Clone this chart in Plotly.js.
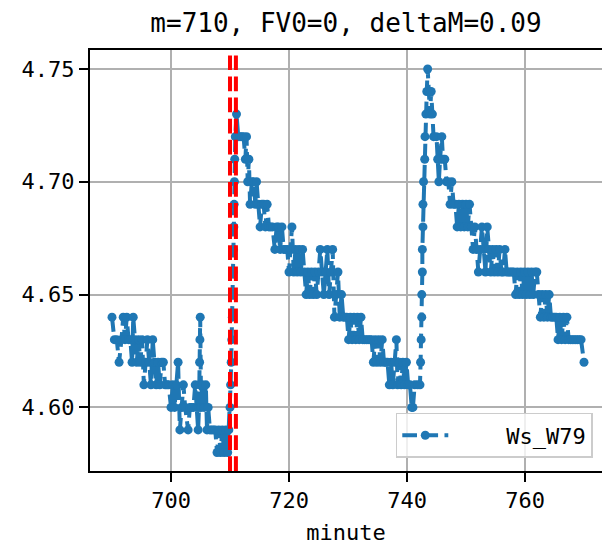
<!DOCTYPE html>
<html>
<head>
<meta charset="utf-8">
<script src="https://cdn.plot.ly/plotly-3.0.1.min.js"></script>
<style>html,body{margin:0;padding:0;background:#fff;}#chart{width:602px;height:553px;}</style>
</head>
<body>
<div id="chart"></div>
<script>
// minute stamps and Ws_W79 values
const minute = [
690.0,690.4,690.8,691.2,691.6,691.9,692.2,692.5,692.8,693.1,693.4,693.6,693.9,694.2,694.5,694.8,695.1,695.4,695.7,696.0,
696.3,696.6,696.9,697.2,697.5,697.8,698.1,698.4,698.7,699.0,699.3,699.6,700.0,700.3,700.6,700.9,701.2,701.5,701.8,702.1,
702.4,702.9,703.2,703.5,703.8,704.1,704.4,704.6,704.75,704.8,704.85,704.9,704.95,705.1,705.3,705.6,705.9,706.1,706.3,706.6,
706.9,707.2,707.5,707.8,708.1,708.4,708.7,709.0,709.3,709.6,709.8,710.0,710.1,710.2,710.3,710.4,710.5,710.55,710.6,710.65,
710.7,710.75,710.8,710.9,711.1,
711.4,711.7,712.0,712.3,712.6,712.8,713.0,713.2,713.4,713.7,714.0,714.3,714.5,714.8,715.1,715.4,715.7,716.0,716.3,716.6,
716.9,717.2,717.6,717.9,718.2,718.5,718.8,719.1,719.4,719.7,720.0,720.3,720.5,720.8,721.1,721.4,721.7,722.0,722.3,722.6,
722.9,723.2,723.5,723.8,724.1,724.4,724.7,725.0,725.3,725.6,725.9,726.2,726.5,726.8,727.1,727.4,727.7,728.0,728.3,728.6,
728.9,729.2,729.5,729.8,730.1,730.4,730.7,731.0,731.3,731.6,731.9,732.2,732.5,732.8,733.1,733.4,733.7,734.0,734.3,734.6,
734.9,735.2,735.5,735.8,736.1,736.4,736.7,737.0,737.3,737.6,737.9,738.2,738.4,738.7,739.0,739.3,739.6,739.9,740.2,740.5,
740.8,741.0,741.3,741.8,742.2,742.3,742.4,742.5,742.5,742.6,742.6,742.7,742.7,742.8,743.0,743.05,743.2,743.35,743.5,
743.7,743.9,744.1,744.3,744.5,745.0,745.2,745.4,745.6,745.9,746.1,746.4,746.7,747.0,747.3,747.6,747.9,748.2,748.5,748.8,
749.1,749.4,749.7,750.0,750.3,750.6,750.9,751.2,751.5,751.8,752.1,752.4,752.7,753.0,753.3,753.6,753.9,754.2,754.5,754.8,
755.1,755.4,755.7,756.0,756.3,756.6,756.9,757.2,757.5,757.8,758.1,758.4,758.7,759.0,759.3,759.6,759.9,760.2,760.5,760.8,
761.1,761.4,761.7,762.0,762.3,762.6,762.9,763.2,763.5,763.8,764.1,764.4,764.7,765.0,765.3,765.6,765.9,766.2,766.5,766.8,
767.1,767.4,767.7,768.0,768.3,768.6,768.9,769.2,769.5,770.0
];
const wsW79 = [
4.64,4.63,4.63,4.62,4.63,4.64,4.63,4.64,4.63,4.63,4.62,4.64,4.63,4.62,4.63,4.62,4.63,4.61,4.62,4.63,
4.62,4.61,4.63,4.62,4.61,4.62,4.61,4.62,4.62,4.61,4.61,4.61,4.60,4.61,4.60,4.61,4.62,4.59,4.60,4.61,
4.60,4.59,4.60,4.60,4.60,4.61,4.60,4.59,4.60,4.61,4.62,4.63,4.64,4.60,4.61,4.60,4.61,4.59,4.60,4.59,
4.59,4.59,4.59,4.58,4.59,4.58,4.59,4.58,4.59,4.58,4.59,4.60,4.61,4.62,4.63,4.64,4.65,4.66,4.67,4.68,
4.69,4.70,4.71,4.72,4.73,
4.72,4.72,4.72,4.72,4.71,4.72,4.70,4.71,4.69,4.70,4.70,4.69,4.70,4.69,4.68,4.69,4.69,4.68,4.69,4.68,
4.68,4.68,4.67,4.68,4.68,4.67,4.68,4.67,4.67,4.67,4.66,4.67,4.68,4.66,4.67,4.66,4.67,4.66,4.67,4.66,
4.65,4.66,4.65,4.66,4.65,4.66,4.65,4.66,4.67,4.66,4.65,4.66,4.67,4.65,4.66,4.67,4.64,4.65,4.66,4.64,
4.65,4.64,4.64,4.64,4.63,4.64,4.63,4.64,4.63,4.64,4.63,4.64,4.63,4.63,4.63,4.63,4.63,4.63,4.62,4.63,
4.62,4.63,4.62,4.63,4.62,4.62,4.62,4.61,4.62,4.61,4.62,4.63,4.61,4.62,4.61,4.62,4.61,4.62,4.61,4.61,
4.60,4.60,4.61,4.61,4.61,4.62,4.63,4.64,4.65,4.66,4.67,4.68,4.69,4.70,4.71,4.72,4.73,4.74,4.75,
4.74,4.73,4.74,4.73,4.72,4.72,4.71,4.70,4.71,4.72,4.71,4.71,4.70,4.70,4.69,4.70,4.69,4.69,4.68,4.69,
4.68,4.69,4.68,4.69,4.68,4.69,4.68,4.67,4.68,4.67,4.66,4.67,4.68,4.67,4.66,4.68,4.67,4.66,4.67,4.66,
4.67,4.66,4.67,4.66,4.66,4.67,4.66,4.66,4.66,4.66,4.66,4.65,4.66,4.65,4.66,4.65,4.66,4.65,4.66,4.65,
4.66,4.65,4.66,4.66,4.65,4.64,4.65,4.64,4.65,4.64,4.65,4.64,4.64,4.64,4.64,4.63,4.64,4.63,4.64,4.63,
4.64,4.63,4.63,4.63,4.63,4.63,4.63,4.63,4.63,4.62
];
const seriesName = 'Ws_W79';
const vlineMinutes = [710, 711];
const xTicks = [700, 720, 740, 760];
const yTicks = [4.60, 4.65, 4.70, 4.75];
const yTickText = ['4.60', '4.65', '4.70', '4.75'];
const titleText = 'm=710, FV0=0, deltaM=0.09';
const xLabel = 'minute';

const mono = 'DejaVu Sans Mono, Liberation Mono, monospace';

const traces = [{
  x: minute, y: wsW79, type: 'scatter', mode: 'lines+markers', name: '\u00a0\u00a0\u00a0\u00a0' + seriesName,
  line: {color: '#1f77b4', width: 4, dash: '14.7px,6.4px'},
  marker: {color: '#1f77b4', size: 9, line: {width: 0}}
}];

const shapes = vlineMinutes.map(v => ({
  type: 'line', xref: 'x', yref: 'paper', x0: v, x1: v, y0: 0, y1: 1,
  line: {color: '#ff0000', width: 4, dash: '14.7px,6.4px'}, layer: 'above'
}));

const axisCommon = {
  showgrid: true, gridcolor: '#b0b0b0', gridwidth: 2,
  showline: true, linecolor: '#000', linewidth: 2, mirror: true,
  ticks: 'outside', ticklen: 9, tickwidth: 2, tickcolor: '#000',
  zeroline: false,
  tickfont: {family: mono, size: 22, color: '#000'}
};

const layout = {
  width: 602, height: 553,
  margin: {l: 90, r: 0, t: 50, b: 82, pad: 0},
  paper_bgcolor: '#fff', plot_bgcolor: '#fff',
  showlegend: true,
  title: {text: titleText, font: {family: mono, size: 26, color: '#000'},
          x: 0.5, xref: 'paper', xanchor: 'center', y: 0.958, yref: 'container', yanchor: 'middle'},
  xaxis: Object.assign({}, axisCommon, {
    range: [686.27, 773.05], tickmode: 'array', tickvals: xTicks,
    title: {text: xLabel, font: {family: mono, size: 22, color: '#000'}, standoff: 12}
  }),
  yaxis: Object.assign({}, axisCommon, {
    range: [4.5718, 4.7584], tickmode: 'array', tickvals: yTicks, ticktext: yTickText
  }),
  shapes: shapes,
  legend: {
    x: 0.982, y: 0.031, xanchor: 'right', yanchor: 'bottom',
    bgcolor: 'rgba(255,255,255,0.8)', bordercolor: '#cccccc', borderwidth: 1.5,
    font: {family: mono, size: 22, color: '#000'}, itemwidth: 46
  }
};

Plotly.newPlot('chart', traces, layout, {displayModeBar: false, staticPlot: true});
</script>
</body>
</html>
